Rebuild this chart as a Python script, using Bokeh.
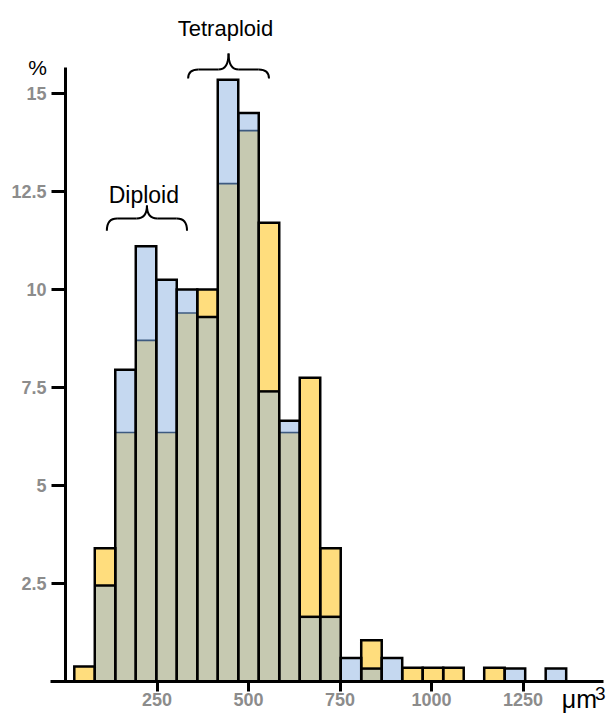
from bokeh.plotting import figure
from bokeh.models import ColumnDataSource, Label, FixedTicker, Range1d
from bokeh.embed import file_html
from bokeh.resources import INLINE
from bokeh.core.properties import value

# ---- data ----
bin_left = [24, 80, 136, 192, 248, 304, 360, 416, 472, 528, 584, 640,
            696, 752, 808, 864, 920, 976, 1032, 1088, 1144, 1200, 1256, 1312]
bin_width = 56
blue_pct = [0, 2.45, 7.95, 11.1, 10.25, 10.0, 9.3, 15.35, 14.5, 7.4, 6.65, 1.65,
            1.65, 0.6, 0.33, 0.6, 0, 0, 0, 0, 0, 0.33, 0, 0.33]
yellow_pct = [0.38, 3.4, 6.35, 8.7, 6.35, 9.4, 10.0, 12.7, 14.05, 11.7, 6.35, 7.75,
              3.4, 0, 1.05, 0, 0.35, 0.35, 0.35, 0, 0.35, 0, 0, 0]
x_ticks = [250, 500, 750, 1000, 1250]
y_ticks = [2.5, 5, 7.5, 10, 12.5, 15]
y_tick_labels = ["2.5", "5", "7.5", "10", "12.5", "15"]

# annotation braces
brace_labels = ["Diploid", "Tetraploid"]
brace_x0 = [113, 335]
brace_x1 = [332, 556]
brace_tip = [11.5, 15.38]
brace_bar = [11.81, 15.61]
brace_peak = [12.14, 16.02]
brace_text_x = [214, 437]
brace_text_y = [12.42, 16.66]
brace_text_size = ["23px", "22px"]

BLUE = "#c5d8f0"
YELLOW = "#ffdd7d"
OLIVE = "#c6c9b1"
TICK_GREY = "#8c8c8c"

# ---- derived layers ----
tops, top_cols, lefts, rights = [], [], [], []
ov_l, ov_r, ov_t = [], [], []
bl_x0, bl_x1, bl_y, bl_c, bl_w = [], [], [], [], []
for l, b, y in zip(bin_left, blue_pct, yellow_pct):
    hi = max(b, y)
    lo = min(b, y)
    if hi <= 0:
        continue
    lefts.append(l)
    rights.append(l + bin_width)
    tops.append(hi)
    top_cols.append(BLUE if b > y else YELLOW)
    if lo > 0:
        ov_l.append(l)
        ov_r.append(l + bin_width)
        ov_t.append(lo)
        bl_x0.append(l)
        bl_x1.append(l + bin_width)
        bl_y.append(lo)
        if y > b:
            bl_c.append("black")
            bl_w.append(2.5)
        else:
            bl_c.append("#3d5a80")
            bl_w.append(1.6)

p = figure(width=611, height=713,
           x_range=Range1d(-177.6, 1491.8), y_range=Range1d(-0.816, 17.37),
           output_backend="svg", toolbar_location=None,
           min_border_left=0, min_border_right=0,
           min_border_top=0, min_border_bottom=0)
p.outline_line_color = None
p.grid.visible = False
p.background_fill_color = "white"

main_src = ColumnDataSource(dict(left=lefts, right=rights, top=tops, color=top_cols))
p.quad(left="left", right="right", bottom=0, top="top", source=main_src,
       fill_color="color", line_color=None)
ov_src = ColumnDataSource(dict(left=ov_l, right=ov_r, top=ov_t))
p.quad(left="left", right="right", bottom=0, top="top", source=ov_src,
       fill_color=OLIVE, line_color=None)
bl_src = ColumnDataSource(dict(x0=bl_x0, x1=bl_x1, y=bl_y, c=bl_c, w=bl_w))
p.segment(x0="x0", y0="y", x1="x1", y1="y", source=bl_src,
          line_color="c", line_width="w")
p.quad(left="left", right="right", bottom=0, top="top", source=main_src,
       fill_color=None, line_color="black", line_width=2.5, line_join="miter")

# braces
for i in range(len(brace_labels)):
    x0, x1 = brace_x0[i], brace_x1[i]
    xc = (x0 + x1) / 2
    r = 28
    tip, bar, peak = brace_tip[i], brace_bar[i], brace_peak[i]
    p.quadratic(x0=[x0, xc - r, xc + r, x1 - r], y0=[tip, bar, bar, bar],
                x1=[x0 + r, xc, xc, x1], y1=[bar, peak, peak, tip],
                cx=[x0, xc, xc, x1], cy=[bar, bar, bar, bar],
                line_color="black", line_width=2)
    p.segment(x0=[x0 + r, xc + r], y0=[bar, bar], x1=[xc - r, x1 - r], y1=[bar, bar],
              line_color="black", line_width=2)
    p.text(x=[brace_text_x[i]], y=[brace_text_y[i]], text=[brace_labels[i]],
           text_font=value("Liberation Sans"), text_font_size=brace_text_size[i],
           text_align="center", text_baseline="alphabetic", text_color="black")

# axes (fixed at the origin, inside the full-canvas frame)
for ax in (p.xaxis[0], p.yaxis[0]):
    ax.fixed_location = 0
    ax.axis_line_width = 3
    ax.axis_line_color = "black"
    ax.major_tick_line_width = 3
    ax.major_tick_line_color = "black"
    ax.major_tick_in = 0
    ax.minor_tick_line_color = None
    ax.major_label_text_font = "Liberation Sans"
    ax.major_label_text_font_style = "bold"
    ax.major_label_text_font_size = "18px"
    ax.major_label_text_color = TICK_GREY

p.xaxis.ticker = FixedTicker(ticks=x_ticks)
p.xaxis.major_label_overrides = {float(t): str(t) for t in x_ticks}
p.xaxis.major_tick_out = 10
p.xaxis.major_label_standoff = 1
p.xaxis.bounds = (-40, 1470)
p.yaxis.ticker = FixedTicker(ticks=y_ticks)
p.yaxis.major_label_overrides = {float(t): s for t, s in zip(y_ticks, y_tick_labels)}
p.yaxis.major_tick_out = 14
p.yaxis.major_label_standoff = 5
p.yaxis.bounds = (0, 15.65)

p.add_layout(Label(x=-102, y=15.65, text="%", text_font="Liberation Sans",
                   text_font_size="21px", text_color="black", text_baseline="alphabetic"))
p.add_layout(Label(x=1356, y=-0.45, text="μm", text_font="Liberation Sans",
                   text_font_size="25px", text_color="black", text_baseline="alphabetic"))
p.add_layout(Label(x=1447, y=-0.30, text="3", text_font="Liberation Sans",
                   text_font_size="19px", text_color="black", text_baseline="alphabetic"))

open("out.html", "w").write(file_html(p, INLINE))
